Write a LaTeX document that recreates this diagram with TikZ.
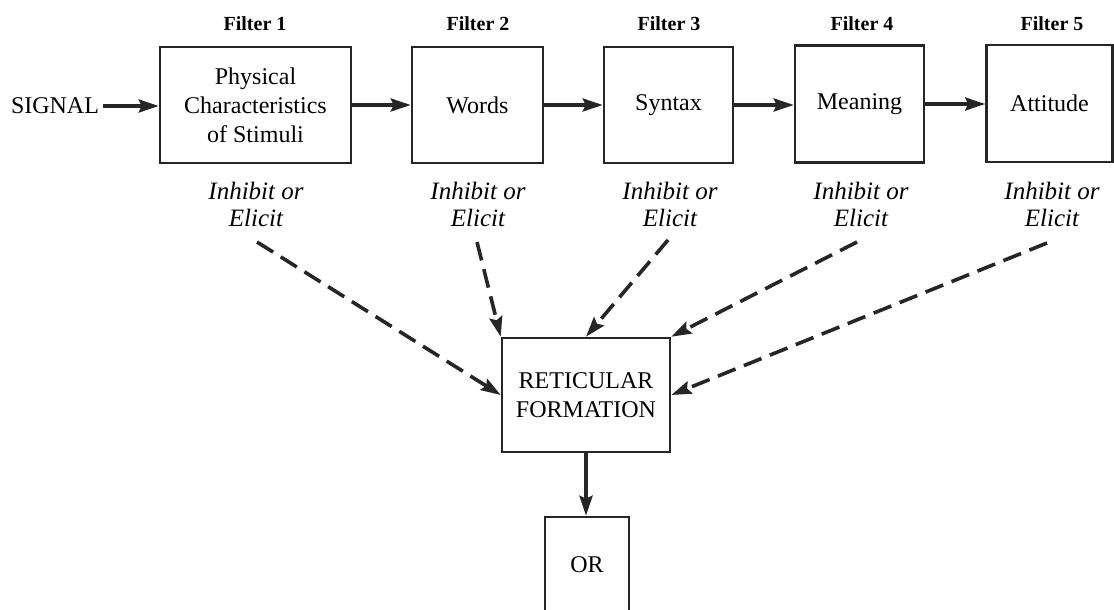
\documentclass[tikz,border=0pt]{standalone}
\usepackage{fontspec}
\setmainfont{Liberation Serif}
\usetikzlibrary{arrows.meta}
\tikzset{
  x=1pt, y=-1pt,
  ink/.style={draw=black!85, line width=2.6pt},
  filterbox/.style={ink, align=center, inner sep=0pt,
    font=\fontsize{24}{29}\selectfont},
  filtertitle/.style={font=\bfseries\fontsize{20}{22}\selectfont},
  effect/.style={align=center, font=\itshape\fontsize{25}{27}\selectfont},
  tip/.style={-{Stealth[length=20pt, width=13pt, inset=3pt]}},
  flow/.style={draw=black!85, line width=3.6pt, tip},
  influence/.style={draw=black!85, line width=3.6pt, dash pattern=on 19pt off 9pt, tip},
}
\begin{document}
\begin{tikzpicture}
\useasboundingbox (0,0) rectangle (1114,610);
\clip (0,0) rectangle (1114,610);

% the five filter stages
\node[filterbox, minimum width=191pt, minimum height=116pt] (f1) at (255.5,105)
  {Physical\\Characteristics\\of Stimuli};
\node[filterbox, minimum width=131pt, minimum height=116pt] (f2) at (477.5,105) {Words};
\node[filterbox, minimum width=129pt, minimum height=116pt] (f3) at (668.5,105) {Syntax};
\node[filterbox, minimum width=129pt, minimum height=117pt] (f4) at (859.5,104) {Meaning};
\node[filterbox, minimum width=126pt, minimum height=117pt] (f5) at (1049.5,103.5) {Attitude};

% stage titles
\node[filtertitle] (t1) at (255,24) {Filter 1};
\node[filtertitle] (t2) at (478,24) {Filter 2};
\node[filtertitle] (t3) at (669,24) {Filter 3};
\node[filtertitle] (t4) at (862,24) {Filter 4};
\node[filtertitle] (t5) at (1052,24) {Filter 5};

% effect labels under each stage
\node[effect] (e1) at (256,204) {Inhibit or\\Elicit};
\node[effect] (e2) at (478,204) {Inhibit or\\Elicit};
\node[effect] (e3) at (670,204) {Inhibit or\\Elicit};
\node[effect] (e4) at (861,204) {Inhibit or\\Elicit};
\node[effect] (e5) at (1052,204) {Inhibit or\\Elicit};

% input
\node[font=\fontsize{24}{27}\selectfont, inner sep=4pt] (sig) at (55,106) {SIGNAL};

% reticular formation and output
\node[filterbox, minimum width=168pt, minimum height=114pt] (rf) at (586,395)
  {RETICULAR\\FORMATION};
\node[filterbox, minimum width=84pt, minimum height=96pt] (or) at (587,565) {OR};

% main signal path
\draw[flow] (sig.east) -- (f1.west |- sig.east);
\draw[flow] (f1.east |- f2.west) -- (f2.west);
\draw[flow] (f2) -- (f3);
\draw[flow] (f3.east) -- (f4.west |- f3.east);
\draw[flow] (f4.east) -- (f5.west |- f4.east);
\draw[flow] (rf.south) -- (rf.south |- or.north);

% start points of the influence lines
\coordinate (d1) at (257,242);
\coordinate (d2) at (477,242);
\coordinate (d3) at (668,240);
\coordinate (d4) at (857,242);
\coordinate (d5) at (1047,243);

\draw[influence] (d1) -- (rf.west);
\draw[influence] (d2) -- (rf.north west);
\draw[influence] (d3) -- (rf.north);
\draw[influence] (d4) -- (rf.north east);
\draw[influence] (d5) -- (rf.east);
\end{tikzpicture}
\end{document}
